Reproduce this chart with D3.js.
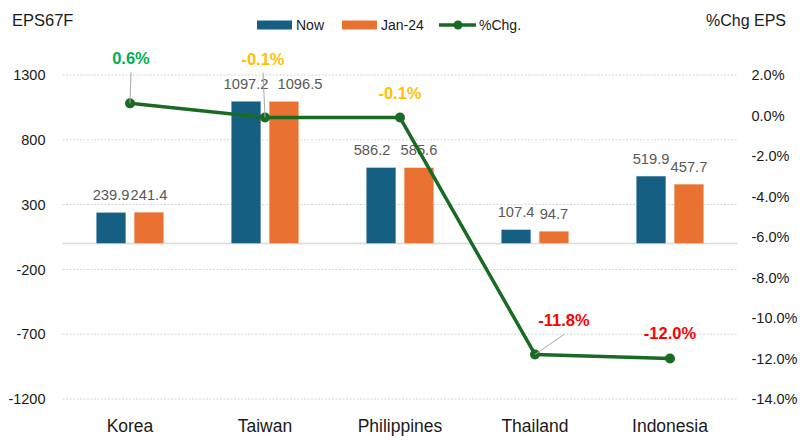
<!DOCTYPE html>
<html>
<head>
<meta charset="utf-8">
<script src="https://cdn.jsdelivr.net/npm/d3@7"></script>
<style>
    body { margin: 0; background: #fff; }
    svg { display: block; font-family: "Liberation Sans", Arial, sans-serif; }
</style>
</head>
<body>
<svg id="chart" width="803" height="440"></svg>
<script>
const categories = ['Korea', 'Taiwan', 'Philippines', 'Thailand', 'Indonesia'];
const seriesNames = ['Now', 'Jan-24'];
const nowValues = [239.9, 1097.2, 586.2, 107.4, 519.9];
const janValues = [241.4, 1096.5, 585.6, 94.7, 457.7];
const pctChange = [0.6, -0.1, -0.1, -11.8, -12.0];
const leftTicks = [-1200, -700, -200, 300, 800, 1300];
const rightTicks = [-14, -12, -10, -8, -6, -4, -2, 0, 2];

const colors = {'Now': '#156082', 'Jan-24': '#E97132', line: '#196B24'};

// label placement for the % labels (dx, dy from point, leader line or not)
const pctLabelLayout = [
    {dx: 1, dy: -39, leader: true},
    {dx: -2, dy: -53, leader: true},
    {dx: 0, dy: -19, leader: false},
    {dx: 29, dy: -28, leader: true},
    {dx: 0, dy: -20, leader: false}
];
// sideways nudges of bar value labels where they would collide
const barLabelShift = {'Taiwan|Jan-24': 16, 'Philippines|Now': -9};

// hyphen instead of the unicode minus that d3.format gives
const fmt = spec => { const f = d3.format(spec); return v => f(v).replace('\u2212', '-'); };
const f1 = fmt('.1f');

const svg = d3.select('#chart');
const plotLeft = 62.5, plotRight = 737.5, plotTop = 75, plotBottom = 399;

const x = d3.scaleBand()
    .domain(categories)
    .range([plotLeft, plotRight])
    .paddingInner(0.5)
    .paddingOuter(0.25);

const x1 = d3.scaleBand()
    .domain(seriesNames)
    .range([0, x.bandwidth()])
    .paddingInner(0.22);

const yL = d3.scaleLinear().domain([-1200, 1300]).range([plotBottom, plotTop]);
const yR = d3.scaleLinear().domain([-14, 2]).range([plotBottom, plotTop]);

const cx = c => x(c) + x.bandwidth() / 2;

// gridlines
svg.append('g')
    .selectAll('line')
    .data(leftTicks)
    .enter()
    .append('line')
        .attr('x1', plotLeft)
        .attr('x2', plotRight)
        .attr('y1', d => yL(d))
        .attr('y2', d => yL(d))
        .style('stroke', '#d4d4d4')
        .style('stroke-width', 1)
        .style('stroke-dasharray', '2,1.5');

svg.append('line')
    .attr('x1', plotLeft)
    .attr('x2', plotRight)
    .attr('y1', yL(0))
    .attr('y2', yL(0))
    .style('stroke', '#d9d9d9')
    .style('stroke-width', 1.5);

// left axis
const axisL = svg.append('g')
    .attr('transform', `translate(${plotLeft}, 0)`)
    .call(d3.axisLeft(yL).tickValues(leftTicks).tickSize(0).tickPadding(17).tickFormat(fmt('d')));
axisL.select('.domain').remove();
axisL.selectAll('text')
    .style('font-size', '14.5px')
    .style('fill', '#1a1a1a')
    .style('font-family', '"Liberation Sans", Arial, sans-serif');

// right axis
const axisR = svg.append('g')
    .attr('transform', `translate(${plotRight}, 0)`)
    .call(d3.axisRight(yR).tickValues(rightTicks).tickSize(0).tickPadding(14).tickFormat(d => f1(d) + '%'));
axisR.select('.domain').remove();
axisR.selectAll('text')
    .style('font-size', '14.5px')
    .style('fill', '#1a1a1a')
    .style('font-family', '"Liberation Sans", Arial, sans-serif');

// category axis
svg.append('g')
    .selectAll('text')
    .data(categories)
    .enter()
    .append('text')
        .attr('x', d => cx(d))
        .attr('y', 432)
        .attr('text-anchor', 'middle')
        .style('font-size', '17.5px')
        .style('fill', '#1a1a1a')
        .text(d => d);

// bars
const barData = [];
categories.forEach((c, i) => {
    barData.push({cat: c, key: 'Now', value: nowValues[i]});
    barData.push({cat: c, key: 'Jan-24', value: janValues[i]});
});

const bars = svg.append('g')
    .selectAll('g')
    .data(barData)
    .enter()
    .append('g');

bars.append('rect')
    .attr('x', d => x(d.cat) + x1(d.key))
    .attr('y', d => yL(Math.max(0, d.value)))
    .attr('width', x1.bandwidth())
    .attr('height', d => Math.abs(yL(d.value) - yL(0)))
    .style('fill', d => colors[d.key])
    .style('stroke', '#ffffff')
    .style('stroke-opacity', 0.4)
    .style('stroke-width', 0.8);

bars.append('text')
    .attr('x', d => x(d.cat) + x1(d.key) + x1.bandwidth() / 2 + (barLabelShift[d.cat + '|' + d.key] || 0))
    .attr('y', d => yL(d.value) - 12.5)
    .attr('text-anchor', 'middle')
    .style('font-size', '14.7px')
    .style('fill', '#595959')
    .text(d => f1(d.value));

// line
const pts = categories.map((c, i) => ({cat: c, value: pctChange[i], lay: pctLabelLayout[i]}));

svg.append('path')
    .datum(pts)
    .attr('d', d3.line().x(d => cx(d.cat)).y(d => yR(d.value)))
    .style('fill', 'none')
    .style('stroke', colors.line)
    .style('stroke-width', 3.5)
    .style('stroke-linejoin', 'round');

svg.append('g')
    .selectAll('circle')
    .data(pts)
    .enter()
    .append('circle')
        .attr('cx', d => cx(d.cat))
        .attr('cy', d => yR(d.value))
        .attr('r', 5)
        .style('fill', colors.line);

const pctColor = v => v > 0 ? '#00B050' : (v > -1 ? '#FFC000' : '#FF0000');

// leader lines
svg.append('g')
    .selectAll('line')
    .data(pts.filter(d => d.lay.leader))
    .enter()
    .append('line')
        .attr('x1', d => cx(d.cat))
        .attr('y1', d => yR(d.value))
        .attr('x2', d => cx(d.cat) + d.lay.dx)
        .attr('y2', d => yR(d.value) + d.lay.dy + 8)
        .style('stroke', '#a6a6a6')
        .style('stroke-width', 1);

svg.append('g')
    .selectAll('text')
    .data(pts)
    .enter()
    .append('text')
        .attr('x', d => cx(d.cat) + d.lay.dx)
        .attr('y', d => yR(d.value) + d.lay.dy)
        .attr('text-anchor', 'middle')
        .style('font-size', '16.5px')
        .style('font-weight', 'bold')
        .style('fill', d => pctColor(d.value))
        .text(d => f1(d.value) + '%');

// titles
svg.append('text')
    .attr('x', 12)
    .attr('y', 26)
    .style('font-size', '16.5px')
    .style('fill', '#1a1a1a')
    .text('EPS67F');

svg.append('text')
    .attr('x', 786)
    .attr('y', 26)
    .attr('text-anchor', 'end')
    .style('font-size', '16px')
    .style('fill', '#1a1a1a')
    .text('%Chg EPS');

// legend
const legend = svg.append('g');
const legendItems = [
    {name: 'Now', x: 257, type: 'bar'},
    {name: 'Jan-24', x: 342, type: 'bar'},
    {name: '%Chg.', x: 439, type: 'line'}
];
legendItems.forEach(item => {
    const g = legend.append('g').attr('transform', `translate(${item.x}, 25)`);
    if (item.type == 'bar') {
        g.append('rect')
            .attr('x', 0)
            .attr('y', -4.5)
            .attr('width', 35)
            .attr('height', 9)
            .style('fill', colors[item.name]);
    } else {
        g.append('line')
            .attr('x1', 0)
            .attr('x2', 37)
            .attr('y1', 0)
            .attr('y2', 0)
            .style('stroke', colors.line)
            .style('stroke-width', 3.5);
        g.append('circle')
            .attr('cx', 19)
            .attr('cy', 0)
            .attr('r', 4.5)
            .style('fill', colors.line);
    }
    g.append('text')
        .attr('x', item.type == 'bar' ? 39 : 40)
        .attr('y', 5)
        .style('font-size', '14px')
        .style('fill', '#1a1a1a')
        .text(item.name);
});
</script>
</body>
</html>
